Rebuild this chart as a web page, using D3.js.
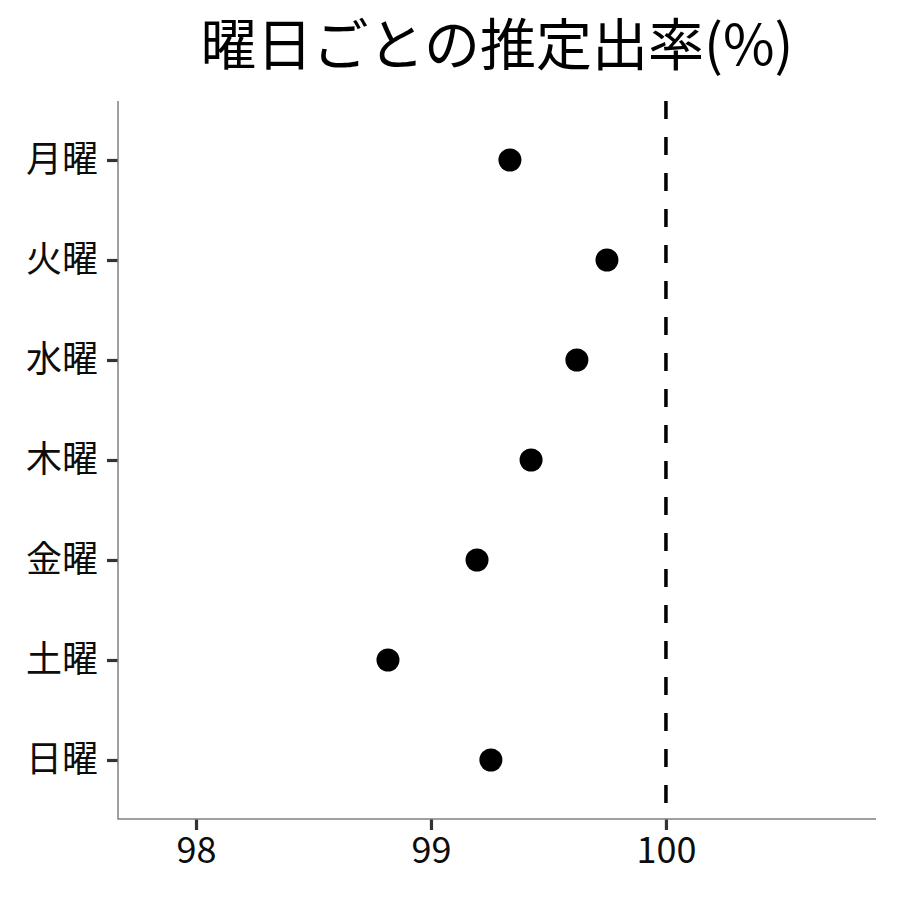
<!DOCTYPE html>
<html><head><meta charset="utf-8">
<script src="https://cdn.jsdelivr.net/npm/d3@7"></script>
<style>body{margin:0;background:#fff}</style>
</head><body>
<svg id="c" width="900" height="900"></svg>
<script>
const days = ["月曜","火曜","水曜","木曜","金曜","土曜","日曜"];
const rates = [99.336, 99.749, 99.621, 99.426, 99.196, 98.817, 99.255];
const xTicks = [98, 99, 100];
const refValue = 100;
const titleText = "曜日ごとの推定出率(%)";

const svg = d3.select("#c");
const font = "'Noto Sans CJK JP', 'Noto Sans', sans-serif";
const mLeft = 118, mRight = 876, mTop = 101, mBottom = 819;

const x = d3.scaleLinear().domain([97.668, 100.894]).range([mLeft, mRight]);
const y = d3.scalePoint().domain(days).range([160, 760]);

svg.append("rect").attr("width",900).attr("height",900).attr("fill","#fff");

// axes
const xAxis = svg.append("g").attr("transform",`translate(0,${mBottom})`)
  .call(d3.axisBottom(x).tickValues(xTicks).tickFormat(d3.format("d")).tickSize(11).tickPadding(7));
const yAxis = svg.append("g").attr("transform",`translate(${mLeft},0)`)
  .call(d3.axisLeft(y).tickSize(11).tickPadding(9));
[xAxis, yAxis].forEach(g => {
  g.select(".domain").remove();
  g.selectAll(".tick line").attr("stroke","#333").attr("stroke-width",3.2);
  g.selectAll(".tick text").attr("fill","#0d0d0d").style("font-family",font).style("font-size","36px");
});
svg.append("line").attr("x1",mLeft).attr("x2",mLeft).attr("y1",mTop).attr("y2",mBottom+0.5)
  .attr("stroke","#808080").attr("stroke-width",1.5);
svg.append("line").attr("x1",mLeft).attr("x2",mRight).attr("y1",mBottom).attr("y2",mBottom)
  .attr("stroke","#808080").attr("stroke-width",1.5);

// reference line
svg.append("line").attr("x1",x(refValue)).attr("x2",x(refValue)).attr("y1",mTop).attr("y2",mBottom)
  .attr("stroke","#000").attr("stroke-width",3.5).attr("stroke-dasharray","18,18");

// points
svg.append("g").selectAll("circle").data(days).join("circle")
  .attr("cx",(d,i)=>x(rates[i])).attr("cy",d=>y(d)).attr("r",11.5).attr("fill","#000");

// title
svg.append("text").attr("x",497).attr("y",65).attr("text-anchor","middle")
  .style("font-family",font).style("font-size","56px").attr("fill","#000").text(titleText);
</script>
</body></html>
